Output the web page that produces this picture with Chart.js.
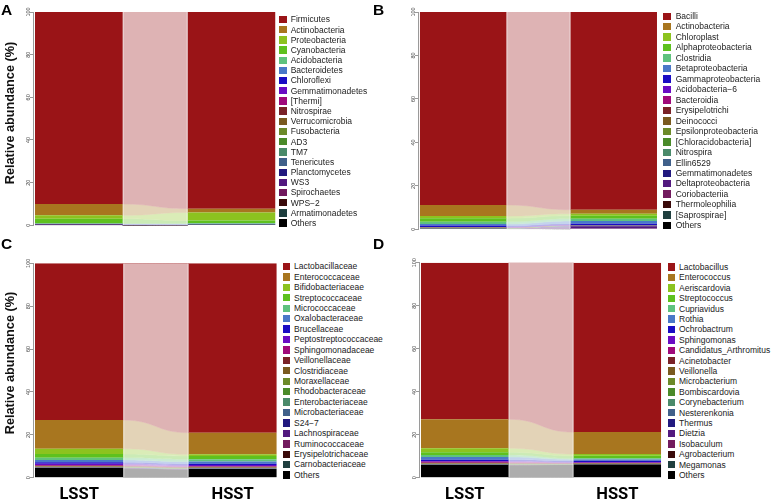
<!DOCTYPE html>
<html><head><meta charset="utf-8">
<script src="https://cdn.jsdelivr.net/npm/chart.js@4.4.1/dist/chart.umd.min.js"></script>
<style>
html,body{margin:0;padding:0;background:#fff;}
#wrap{position:relative;width:774px;height:503px;overflow:hidden;background:#fff;}
canvas{position:absolute;}
.letter{position:absolute;font:bold 15.5px "Liberation Sans",Arial,sans-serif;line-height:1;color:#000;}
.ytitle{position:absolute;font:bold 12.7px "Liberation Sans",Arial,sans-serif;line-height:1;white-space:nowrap;transform:translate(-50%,-50%) rotate(-90deg);color:#111;}
.lg{position:absolute;font:8.5px "Liberation Sans",Arial,sans-serif;color:#222;white-space:nowrap;}
.lgbox{position:absolute;width:7.4px;height:7.4px;}
</style></head>
<body><div id="wrap"></div>
<script>
// ---------------- data ----------------
const groups = ['LSST', 'HSST'];
const yTickValues = [0, 20, 40, 60, 80, 100];
const colors = ['#9a1417', '#a8761f', '#8cc31f', '#5ec11e', '#5fc27e', '#4a78c8', '#1a0cc4', '#6a0cc4',
  '#a0097a', '#7a2227', '#7a5a1f', '#6c8a29', '#4a8a29', '#4a8a6a', '#40608a', '#22197f',
  '#52197f', '#721a5e', '#3a0a0a', '#1f3f3f', '#000000'];

const phylaNames = ['Firmicutes', 'Actinobacteria', 'Proteobacteria', 'Cyanobacteria', 'Acidobacteria',
  'Bacteroidetes', 'Chloroflexi', 'Gemmatimonadetes', '[Thermi]', 'Nitrospirae', 'Verrucomicrobia',
  'Fusobacteria', 'AD3', 'TM7', 'Tenericutes', 'Planctomycetes', 'WS3', 'Spirochaetes', 'WPS\u22122',
  'Armatimonadetes', 'Others'];
const phylaLSST = [90.0, 5.3, 1.6, 2.2, 0.15, 0.15, 0.25, 0.1, 0.03, 0.02, 0.02, 0.02, 0.02, 0.02, 0.02,
  0.02, 0.01, 0.01, 0.01, 0.01, 0.02];
const phylaHSST = [92.2, 1.8, 3.8, 1.3, 0.2, 0.3, 0.1, 0.05, 0.02, 0.02, 0.02, 0.01, 0.01, 0.01, 0.02,
  0.01, 0.01, 0.01, 0.01, 0.01, 0.1];

const classNames = ['Bacilli', 'Actinobacteria', 'Chloroplast', 'Alphaproteobacteria', 'Clostridia',
  'Betaproteobacteria', 'Gammaproteobacteria', 'Acidobacteria\u22126', 'Bacteroidia', 'Erysipelotrichi',
  'Deinococci', 'Epsilonproteobacteria', '[Chloracidobacteria]', 'Nitrospira', 'Ellin6529',
  'Gemmatimonadetes', 'Deltaproteobacteria', 'Coriobacteriia', 'Thermoleophilia', '[Saprospirae]', 'Others'];
const classLSST = [88.8, 5.1, 1.0, 1.6, 1.1, 0.7, 0.6, 0.1, 0.1, 0.1, 0.1, 0.05, 0.05, 0.03, 0.03, 0.03,
  0.03, 0.02, 0.02, 0.02, 0.42];
const classHSST = [91.0, 1.8, 1.0, 1.4, 1.0, 1.2, 0.6, 0.05, 0.05, 0.05, 0.05, 0.05, 0.03, 0.03, 0.03,
  0.3, 1.0, 0.05, 0.03, 0.03, 0.25];

const familyNames = ['Lactobacillaceae', 'Enterococcaceae', 'Bifidobacteriaceae', 'Streptococcaceae',
  'Micrococcaceae', 'Oxalobacteraceae', 'Brucellaceae', 'Peptostreptococcaceae', 'Sphingomonadaceae',
  'Veillonellaceae', 'Clostridiaceae', 'Moraxellaceae', 'Rhodobacteraceae', 'Enterobacteriaceae',
  'Microbacteriaceae', 'S24\u22127', 'Lachnospiraceae', 'Ruminococcaceae', 'Erysipelotrichaceae',
  'Carnobacteriaceae', 'Others'];
const familyLSST = [73.1, 13.4, 2.5, 1.7, 1.0, 1.1, 0.7, 0.6, 0.3, 0.3, 0.2, 0.1, 0.1, 0.1, 0.1, 0.05,
  0.05, 0.03, 0.03, 0.04, 4.5];
const familyHSST = [79.0, 10.1, 0.8, 1.5, 1.1, 1.0, 0.6, 0.6, 0.2, 0.3, 0.2, 0.1, 0.1, 0.1, 0.1, 0.05,
  0.05, 0.05, 0.03, 0.02, 4.0];

const genusNames = ['Lactobacillus', 'Enterococcus', 'Aeriscardovia', 'Streptococcus', 'Cupriavidus',
  'Rothia', 'Ochrobactrum', 'Sphingomonas', 'Candidatus_Arthromitus', 'Acinetobacter', 'Veillonella',
  'Microbacterium', 'Bombiscardovia', 'Corynebacterium', 'Nesterenkonia', 'Thermus', 'Dietzia',
  'Isobaculum', 'Agrobacterium', 'Megamonas', 'Others'];
const genusLSST = [72.8, 13.5, 1.9, 1.2, 1.0, 1.2, 0.6, 0.4, 0.4, 0.3, 0.2, 0.1, 0.1, 0.1, 0.05, 0.05,
  0.05, 0.03, 0.04, 0.03, 5.95];
const genusHSST = [78.8, 10.2, 0.8, 1.2, 0.5, 0.6, 0.6, 0.3, 0.2, 0.2, 0.1, 0.1, 0.05, 0.05, 0.05, 0.05,
  0.03, 0.03, 0.02, 0.02, 6.1];

// ---------------- layout ----------------
const panels = [
  {letter: 'A', lx: 1, ly: 2, names: phylaNames, lsst: phylaLSST, hsst: phylaHSST,
   cv: {left: 0, top: 0, w: 282, h: 245}, area: {left: 33, top: 12, bottom: 225.3, unit: 152.7},
   legend: {bx: 279.3, tx: 290.7, y0: 19.5, dy: 10.18}, ytitle: {x: 9.5, y: 113.3}, xlab: false},
  {letter: 'B', lx: 373, ly: 2, names: classNames, lsst: classLSST, hsst: classHSST,
   cv: {left: 387, top: 0, w: 276, h: 245}, area: {left: 31, top: 12, bottom: 229.3, unit: 150.5},
   legend: {bx: 663.3, tx: 675.7, y0: 16.2, dy: 10.47}, ytitle: null, xlab: false},
  {letter: 'C', lx: 1, ly: 236, names: familyNames, lsst: familyLSST, hsst: familyHSST,
   cv: {left: 0, top: 250, w: 282, h: 253}, area: {left: 33, top: 13.3, bottom: 227.7, unit: 153.5},
   legend: {bx: 282.7, tx: 294, y0: 266.5, dy: 10.43}, ytitle: {x: 9.5, y: 362.5}, xlab: true},
  {letter: 'D', lx: 373, ly: 236, names: genusNames, lsst: genusLSST, hsst: genusHSST,
   cv: {left: 387, top: 250, w: 280, h: 253}, area: {left: 32, top: 12.7, bottom: 227.7, unit: 152.5},
   legend: {bx: 667.7, tx: 679, y0: 267.1, dy: 10.4}, ytitle: null, xlab: true}
];
const CP = 0.575;
const HALF = CP / 2;
const GAPU = 0.013;

const flowPlugin = {
  id: 'flow',
  afterDatasetsDraw(chart) {
    const ctx = chart.ctx;
    const metas = chart.getSortedVisibleDatasetMetas();
    const area = chart.chartArea;
    let xa = 0, xb = 0;
    ctx.save();
    ctx.beginPath();
    ctx.rect(area.left, area.top, area.right - area.left, area.bottom - area.top);
    ctx.clip();
    metas.forEach(meta => {
      const a = meta.data[0], b = meta.data[1];
      xa = a.x + a.width / 2; xb = b.x - b.width / 2;
      const xm = (xa + xb) / 2;
      const col = meta.controller.getDataset().backgroundColor;
      ctx.beginPath();
      ctx.moveTo(xa, a.y);
      ctx.bezierCurveTo(xm, a.y, xm, b.y, xb, b.y);
      ctx.lineTo(xb, b.base);
      ctx.bezierCurveTo(xm, b.base, xm, a.base, xa, a.base);
      ctx.closePath();
      ctx.fillStyle = col; ctx.fill();
      ctx.lineWidth = 0.5; ctx.strokeStyle = col; ctx.stroke();
    });
    const h = area.bottom - area.top;
    ctx.fillStyle = 'rgba(255,255,255,0.68)';
    ctx.fillRect(xa, area.top, xb - xa, h);
    ctx.fillStyle = 'rgba(255,255,255,0.35)';
    ctx.fillRect(xa, area.top, 1.2, h);
    ctx.fillRect(xb - 1.2, area.top, 1.2, h);
    ctx.restore();
  }
};

const wrap = document.getElementById('wrap');

panels.forEach(p => {
  const cv = document.createElement('canvas');
  cv.width = p.cv.w; cv.height = p.cv.h;
  Object.assign(cv.style, {left: p.cv.left + 'px', top: p.cv.top + 'px', width: p.cv.w + 'px', height: p.cv.h + 'px'});
  wrap.appendChild(cv);

  const right = p.area.left + (1 + 2 * HALF + GAPU) * p.area.unit;
  const xh = p.xlab ? 24 : 0;
  const datasets = [];
  for (let i = p.names.length - 1; i >= 0; i--) {
    datasets.push({
      label: p.names[i],
      data: groups.map((g, gi) => ({x: gi, y: (gi === 0 ? p.lsst : p.hsst)[i]})),
      backgroundColor: colors[i],
      borderWidth: 0,
      categoryPercentage: CP,
      barPercentage: 1
    });
  }

  new Chart(cv, {
    type: 'bar',
    data: {datasets},
    plugins: [flowPlugin],
    options: {
      responsive: false, animation: false, events: [],
      layout: {padding: {left: 0, top: p.area.top, right: p.cv.w - right, bottom: p.cv.h - p.area.bottom - xh}},
      plugins: {legend: {display: false}, tooltip: {enabled: false}},
      scales: {
        x: {
          type: 'linear', stacked: true, offset: false, min: -HALF - GAPU, max: 1 + HALF,
          grid: {display: false, drawTicks: false, offset: false}, border: {display: false},
          afterBuildTicks: s => { s.ticks = groups.map((g, i) => ({value: i})); },
          afterFit: s => { s.height = xh; },
          ticks: {display: p.xlab, autoSkip: false, maxRotation: 0, padding: 7, color: '#000',
            font: {family: 'Roboto,"Liberation Sans",Arial', weight: 'bold', size: 16.5},
            callback: v => groups[v]}
        },
        y: {
          stacked: true, min: 0, max: 100,
          afterBuildTicks: s => { s.ticks = yTickValues.map(v => ({value: v})); },
          afterFit: s => { s.width = p.area.left; },
          grid: {drawOnChartArea: false, drawTicks: true, tickLength: 3, color: '#9a9a9a'},
          border: {display: true, color: '#9a9a9a'},
          ticks: {minRotation: 90, maxRotation: 90, crossAlign: 'center', padding: -3, color: '#444',
            font: {family: '"Liberation Sans",Arial', size: 5.5}}
        }
      }
    }
  });

  // legend (HTML, from the same arrays)
  p.names.forEach((n, i) => {
    const cy = p.legend.y0 + i * p.legend.dy;
    const box = document.createElement('div');
    box.className = 'lgbox';
    Object.assign(box.style, {left: p.legend.bx + 'px', top: (cy - 3.7) + 'px', background: colors[i]});
    wrap.appendChild(box);
    const t = document.createElement('div');
    t.className = 'lg';
    t.textContent = n;
    Object.assign(t.style, {left: p.legend.tx + 'px', top: (cy - p.legend.dy / 2) + 'px',
      height: p.legend.dy + 'px', lineHeight: p.legend.dy + 'px'});
    wrap.appendChild(t);
  });

  const L = document.createElement('div');
  L.className = 'letter'; L.textContent = p.letter;
  Object.assign(L.style, {left: p.lx + 'px', top: p.ly + 'px'});
  wrap.appendChild(L);

  if (p.ytitle) {
    const yt = document.createElement('div');
    yt.className = 'ytitle'; yt.textContent = 'Relative abundance (%)';
    Object.assign(yt.style, {left: p.ytitle.x + 'px', top: p.ytitle.y + 'px'});
    wrap.appendChild(yt);
  }
});
</script>
</body></html>
